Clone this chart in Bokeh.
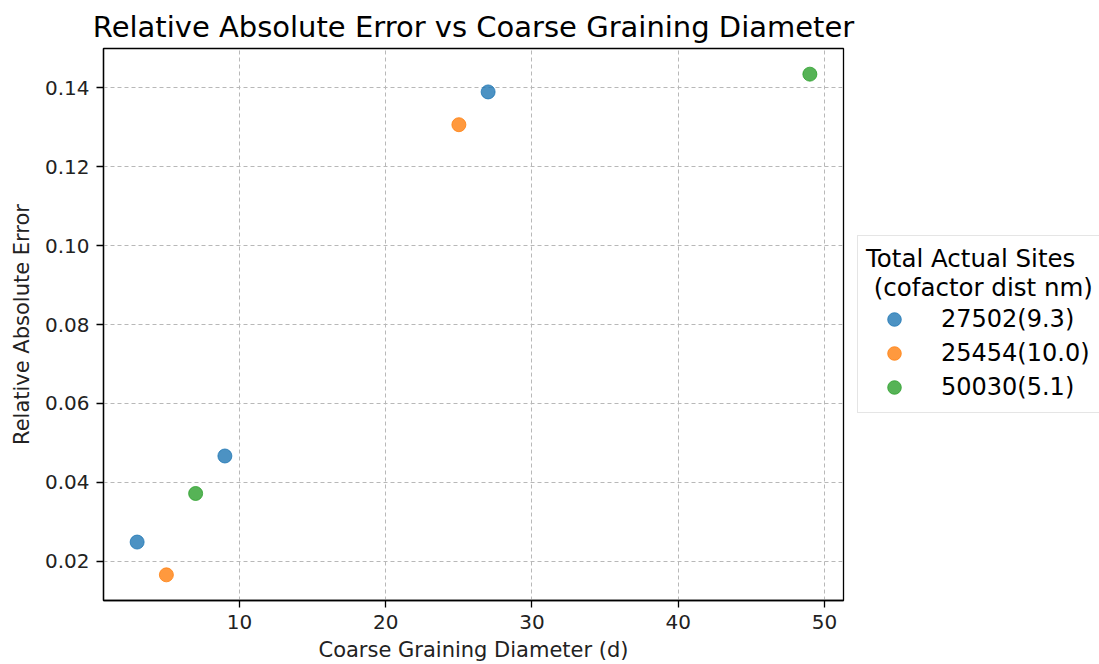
from bokeh.plotting import figure
from bokeh.layouts import row
from bokeh.models import Range1d, FixedTicker, PrintfTickFormatter, Legend, LegendItem, ColumnDataSource
from bokeh.embed import file_html
from bokeh.resources import INLINE

# ---- data ----
series_names = ["27502(9.3)", "25454(10.0)", "50030(5.1)"]
series_colors = ["#1f77b4", "#ff7f0e", "#2ca02c"]
blue_x = [3, 9, 27]
blue_y = [0.0249, 0.0467, 0.1389]
orange_x = [5, 25]
orange_y = [0.0166, 0.1306]
green_x = [7, 49]
green_y = [0.0372, 0.1434]
x_ticks = [10, 20, 30, 40, 50]
y_ticks = [0.02, 0.04, 0.06, 0.08, 0.10, 0.12, 0.14]

FONT = "DejaVu Sans"
H = 664
W1 = 856

p = figure(width=W1, height=H, output_backend="svg", toolbar_location=None,
           x_range=Range1d(0.7, 51.3), y_range=Range1d(0.0101, 0.1499),
           min_border_left=103, min_border_top=48, min_border_bottom=63, min_border_right=W1 - 843)

p.title.text = "Relative Absolute Error vs Coarse Graining Diameter"
p.title.text_font = FONT
p.title.text_font_size = "29px"
p.title.text_font_style = "normal"
p.title.align = "center"
p.title.text_color = "#000000"

p.outline_line_color = "black"
p.outline_line_width = 1.3
p.outline_line_alpha = 1

for ax in (p.xaxis, p.yaxis):
    ax.axis_line_color = "black"
    ax.axis_line_width = 1.3
    ax.major_tick_line_color = "black"
    ax.major_tick_line_width = 1.3
    ax.major_tick_in = 0
    ax.major_tick_out = 7
    ax.minor_tick_line_color = None
    ax.major_label_text_font = FONT
    ax.major_label_text_font_size = "20px"
    ax.major_label_text_color = "#222222"
    ax.axis_label_text_font = FONT
    ax.axis_label_text_font_size = "21px"
    ax.axis_label_text_font_style = "normal"
    ax.axis_label_text_color = "#222222"

p.xaxis.ticker = FixedTicker(ticks=x_ticks)
p.yaxis.ticker = FixedTicker(ticks=y_ticks)
p.xaxis.formatter = PrintfTickFormatter(format="%d")
p.yaxis.formatter = PrintfTickFormatter(format="%.2f")
p.xaxis.axis_label = "Coarse Graining Diameter (d)"
p.yaxis.axis_label = "Relative Absolute Error"
p.xaxis.major_label_standoff = 7
p.yaxis.major_label_standoff = 7
p.xaxis.axis_label_standoff = 6
p.yaxis.axis_label_standoff = 8

p.xgrid.grid_line_color = "#b8b8b8"
p.ygrid.grid_line_color = "#b8b8b8"
p.xgrid.grid_line_dash = "4 3"
p.ygrid.grid_line_dash = "4 3"
p.xgrid.grid_line_width = 1
p.ygrid.grid_line_width = 1

groups = [(blue_x, blue_y), (orange_x, orange_y), (green_x, green_y)]
for (xs, ys), c in zip(groups, series_colors):
    src = ColumnDataSource(dict(x=xs, y=ys))
    p.scatter("x", "y", source=src, size=14, fill_color=c, line_color=c,
              fill_alpha=0.8, line_alpha=0.8)

# ---- legend panel to the right of the axes ----
q = figure(width=1099 - W1, height=H, output_backend="svg", toolbar_location=None,
           x_range=Range1d(-1000, -999), y_range=Range1d(-1000, -999),
           min_border_left=0, min_border_right=0, min_border_top=48, min_border_bottom=63)
q.axis.visible = False
q.grid.visible = False
q.outline_line_color = None

legend_renderers = []
for (xs, ys), c in zip(groups, series_colors):
    src = ColumnDataSource(dict(x=xs, y=ys))
    r = q.scatter("x", "y", source=src, size=14, fill_color=c, line_color=c,
                  fill_alpha=0.8, line_alpha=0.8)
    legend_renderers.append(r)

legend = Legend(items=[LegendItem(label=n, renderers=[r]) for n, r in zip(series_names, legend_renderers)],
                title="Total Actual Sites\n (cofactor dist nm)",
                location=(1, 601 - 414))
legend.title_text_font = FONT
legend.title_text_font_size = "24.5px"
legend.title_text_font_style = "normal"
legend.title_text_color = "#000000"
legend.title_standoff = 0
legend.label_text_font = FONT
legend.label_text_font_size = "24px"
legend.label_text_color = "#000000"
legend.glyph_width = 56
legend.glyph_height = 34
legend.label_height = 34
legend.label_standoff = 19
legend.spacing = 0
legend.padding = 8
legend.margin = 0
legend.border_line_color = "#cccccc"
legend.border_line_width = 1
legend.background_fill_alpha = 0.8
q.add_layout(legend)

layout = row(p, q, spacing=0)
open("out.html", "w").write(file_html(layout, INLINE))
